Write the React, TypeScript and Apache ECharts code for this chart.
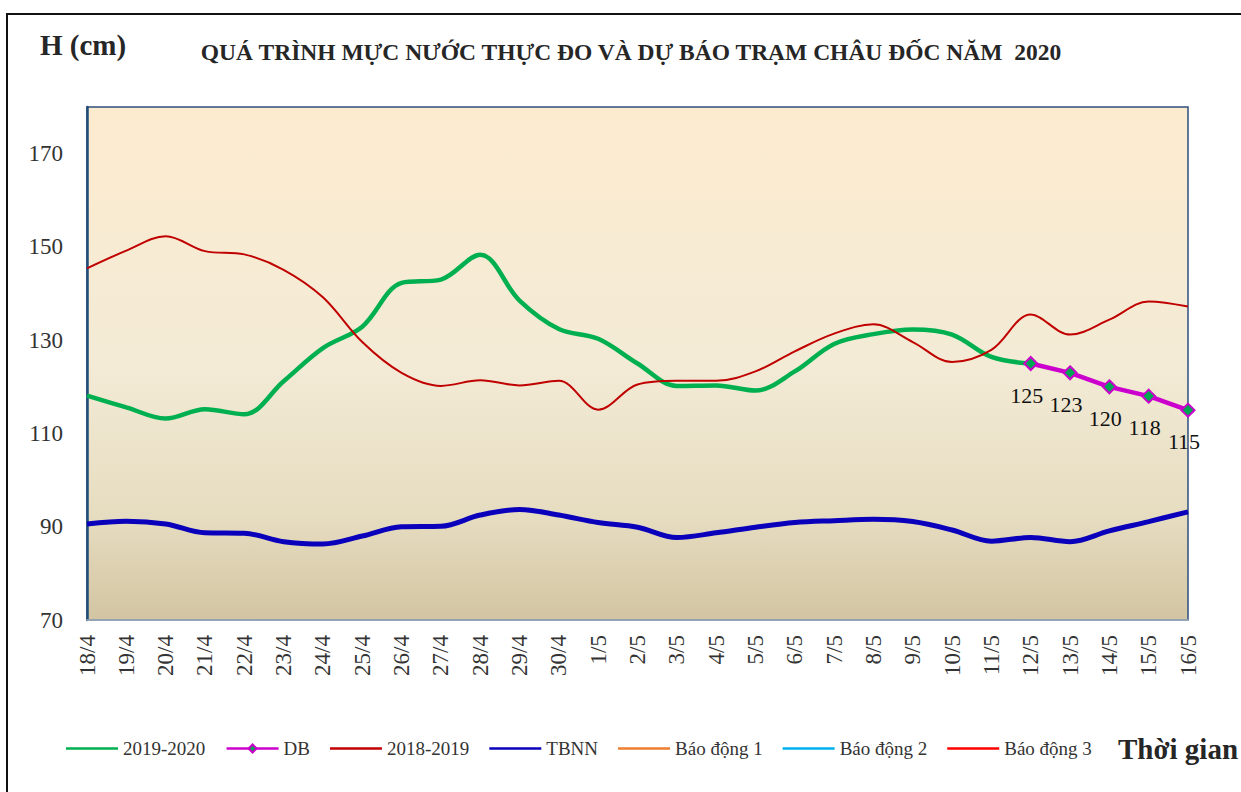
import React, { useEffect, useRef } from "react";
import * as echarts from "echarts";

const categories = [
  "18/4", "19/4", "20/4", "21/4", "22/4", "23/4", "24/4", "25/4", "26/4", "27/4", "28/4", "29/4", "30/4",
  "1/5", "2/5", "3/5", "4/5", "5/5", "6/5", "7/5", "8/5", "9/5", "10/5", "11/5", "12/5", "13/5", "14/5", "15/5", "16/5",
];

const s2019_2020 = [
  118.1, 115.6, 113.2, 115.2, 114.1, 121.2, 128.3, 132.9, 142.3, 143, 148.3, 138.5, 132.4,
  130.3, 125, 120.2, 120.3, 119.2, 123.3, 129.2, 131.3, 132.3, 131.2, 126.4, 125, null, null, null, null,
];

const dbForecast = [
  null, null, null, null, null, null, null, null, null, null, null, null, null,
  null, null, null, null, null, null, null, null, null, null, null, 125, 123, 120, 118, 115,
];

const s2018_2019 = [
  145.4, 149.2, 152.3, 149.1, 148.4, 145.1, 139.2, 129.6, 123, 120.2, 121.4, 120.3, 121.3,
  115.1, 120.5, 121.3, 121.3, 123.3, 127.6, 131.4, 133.4, 129.6, 125.3, 127.9, 135.5, 131.2, 134.4, 138.3, 137.2,
];

const tbnn = [
  90.6, 91.2, 90.6, 88.7, 88.6, 86.8, 86.3, 88, 90, 90.1, 92.5, 93.7, 92.5,
  90.9, 89.9, 87.7, 88.7, 89.9, 90.9, 91.3, 91.6, 91.1, 89.3, 86.9, 87.7, 86.8, 89.1, 91.1, 93.2,
];

const baoDong1: number[] = [];
const baoDong2: number[] = [];
const baoDong3: number[] = [];

const yLabelValues = [70, 90, 110, 130, 150, 170];

const SERIF = "Liberation Serif";
const LINE_ICON = "path://M0,0 L52,0 L52,2.5 L0,2.5 Z";

export default function App() {
  const ref = useRef<HTMLDivElement>(null);

  useEffect(() => {
    if (!ref.current) return;
    const chart = echarts.init(ref.current, undefined, { renderer: "svg" });
    chart.setOption({
      animation: false,
      backgroundColor: "#ffffff",
      textStyle: { fontFamily: SERIF },
      graphic: [
        {
          type: "rect",
          shape: { x: 7, y: 14, width: 1260, height: 820 },
          style: { fill: "none", stroke: "#111", lineWidth: 2 },
          silent: true,
        },
        {
          type: "text",
          x: 40,
          y: 45,
          style: {
            text: "H (cm)",
            font: `bold 29px "${SERIF}"`,
            fill: "#262626",
            verticalAlign: "middle",
          },
        },
        {
          type: "text",
          x: 631,
          y: 52,
          style: {
            text: "QUÁ TRÌNH MỰC NƯỚC THỰC ĐO VÀ DỰ BÁO TRẠM CHÂU ĐỐC NĂM  2020",
            font: `bold 23.5px "${SERIF}"`,
            fill: "#262626",
            align: "center",
            verticalAlign: "middle",
          },
        },
        {
          type: "text",
          x: 1118,
          y: 749,
          style: {
            text: "Thời gian",
            font: `bold 29px "${SERIF}"`,
            fill: "#262626",
            verticalAlign: "middle",
          },
        },
      ],
      grid: {
        left: 87,
        top: 107,
        right: 53,
        bottom: 172,
        show: true,
        borderColor: "#2E4F7E",
        borderWidth: 1.5,
        backgroundColor: {
          type: "linear",
          x: 0,
          y: 0,
          x2: 0,
          y2: 1,
          colorStops: [
            { offset: 0, color: "#FDEBCF" },
            { offset: 0.5, color: "#F3EBD6" },
            { offset: 0.8, color: "#E6DCC0" },
            { offset: 1, color: "#D3C5A2" },
          ],
        },
      },
      legend: {
        left: 66,
        top: 739,
        padding: 0,
        itemWidth: 52,
        itemHeight: 10,
        itemGap: 20,
        textStyle: { fontFamily: SERIF, fontSize: 19, color: "#333" },
        lineStyle: { width: 2.5 },
        data: [
          { name: "2019-2020", icon: LINE_ICON },
          { name: "DB" },
          { name: "2018-2019", icon: LINE_ICON },
          { name: "TBNN", icon: LINE_ICON },
          { name: "Báo động 1", icon: LINE_ICON },
          { name: "Báo động 2", icon: LINE_ICON },
          { name: "Báo động 3", icon: LINE_ICON },
        ],
      },
      xAxis: {
        type: "category",
        data: categories,
        boundaryGap: false,
        axisLine: { show: true, lineStyle: { color: "#A9B2BF", width: 1.5 } },
        axisTick: { show: false },
        axisLabel: {
          rotate: 90,
          interval: 0,
          margin: 15,
          fontFamily: SERIF,
          fontSize: 23,
          color: "#333",
        },
        splitLine: { show: false },
      },
      yAxis: {
        type: "value",
        min: 70,
        max: 180,
        interval: 10,
        axisLine: { show: true, lineStyle: { color: "#1F4E79", width: 2.5 } },
        axisTick: { show: false },
        splitLine: { show: false },
        axisLabel: {
          margin: 24,
          fontFamily: SERIF,
          fontSize: 23,
          color: "#333",
          formatter: (v: number) => (yLabelValues.includes(v) ? String(v) : ""),
        },
      },
      series: [
        {
          name: "2019-2020",
          type: "line",
          data: s2019_2020,
          smooth: 0.35,
          symbol: "none",
          color: "#00B050",
          lineStyle: { color: "#00B050", width: 4.5 },
          z: 2,
        },
        {
          name: "DB",
          type: "line",
          data: dbForecast,
          symbol: "diamond",
          symbolSize: 13,
          showSymbol: true,
          color: "#CC00CC",
          itemStyle: { color: "#00A651", borderColor: "#CC00CC", borderWidth: 2 },
          lineStyle: { color: "#CC00CC", width: 4.5 },
          label: {
            show: true,
            position: "bottom",
            distance: 15,
            offset: [-4, -2],
            fontFamily: SERIF,
            fontSize: 22,
            color: "#111",
          },
          z: 5,
        },
        {
          name: "2018-2019",
          type: "line",
          data: s2018_2019,
          smooth: 0.35,
          symbol: "none",
          color: "#C00000",
          lineStyle: { color: "#C00000", width: 2 },
          z: 3,
        },
        {
          name: "TBNN",
          type: "line",
          data: tbnn,
          smooth: 0.35,
          symbol: "none",
          color: "#0A00BB",
          lineStyle: { color: "#0A00BB", width: 5 },
          z: 2,
        },
        {
          name: "Báo động 1",
          type: "line",
          data: baoDong1,
          symbol: "none",
          color: "#ED7D31",
          lineStyle: { color: "#ED7D31", width: 2 },
        },
        {
          name: "Báo động 2",
          type: "line",
          data: baoDong2,
          symbol: "none",
          color: "#00B0F0",
          lineStyle: { color: "#00B0F0", width: 2 },
        },
        {
          name: "Báo động 3",
          type: "line",
          data: baoDong3,
          symbol: "none",
          color: "#FF0000",
          lineStyle: { color: "#FF0000", width: 2 },
        },
      ],
    });
    return () => chart.dispose();
  }, []);

  return (
    <div
      ref={ref}
      style={{ position: "absolute", left: 0, top: 0, width: 1241, height: 792 }}
    />
  );
}
